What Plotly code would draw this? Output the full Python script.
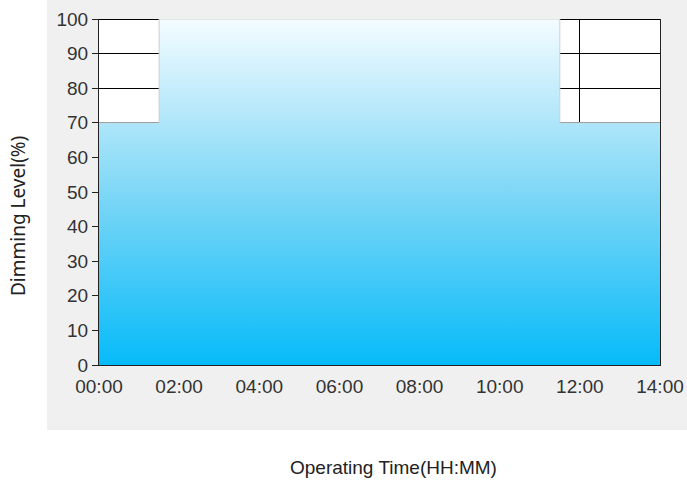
import plotly.graph_objects as go

# Data
hours = [0, 1.5, 11.5, 14]
dimming = [70, 100, 70, 70]
tick_hours = [0, 2, 4, 6, 8, 10, 12, 14]
tick_labels = ["00:00", "02:00", "04:00", "06:00", "08:00", "10:00", "12:00", "14:00"]
y_ticks = [0, 10, 20, 30, 40, 50, 60, 70, 80, 90, 100]

W, H = 687, 484
L, R, T, B = 99, 27, 19, 119
pw, ph = W - L - R, H - T - B

fig = go.Figure()
fig.add_trace(go.Scatter(
    x=hours, y=dimming, mode="lines", line_shape="hv",
    line=dict(color="#cfcfcf", width=1),
    fill="tozeroy",
    fillgradient=dict(type="vertical", start=0, stop=100,
                      colorscale=[[0, "#06bbf9"], [0.5, "#7fd7f6"], [1, "#f4fcff"]]),
    hoverinfo="skip", showlegend=False,
))

arial = "Liberation Sans, Arial, sans-serif"

# gray panel + white plot area
fig.add_shape(type="rect", xref="paper", yref="paper",
              x0=(47 - L) / pw, x1=(W + 5 - L) / pw,
              y0=(ph - (430 - T)) / ph, y1=(ph + T + 5) / ph,
              fillcolor="#f0f0f0", line_width=0, layer="below")
fig.add_shape(type="rect", xref="paper", yref="paper",
              x0=0, x1=1, y0=0, y1=1,
              fillcolor="white", line_width=0, layer="below")
# top gridline (edge gridline is not drawn by plotly)
fig.add_shape(type="line", xref="x", yref="y", x0=0, x1=14, y0=100, y1=100,
              line=dict(color="black", width=2), layer="between")

fig.update_layout(
    width=W, height=H,
    margin=dict(l=L, r=R, t=T, b=B, autoexpand=False),
    paper_bgcolor="white", plot_bgcolor="white",
    xaxis=dict(range=[0, 14], tickvals=tick_hours, ticktext=tick_labels,
               showgrid=True, gridcolor="black", gridwidth=1,
               showline=True, linecolor="#222", linewidth=1, mirror=False,
               ticks="", ticklabelstandoff=4, automargin=False,
               tickfont=dict(family=arial, size=19, color="#333"),
               zeroline=False, fixedrange=True),
    yaxis=dict(range=[0, 100], tickvals=y_ticks,
               showgrid=True, gridcolor="black", gridwidth=1,
               showline=True, linecolor="#222", linewidth=1, mirror=True,
               ticks="outside", ticklen=6, tickcolor="#222", automargin=False,
               tickfont=dict(family=arial, size=19, color="#333"),
               zeroline=False, fixedrange=True),
    annotations=[
        dict(text="Operating Time(HH:MM)", xref="paper", yref="paper",
             x=(393 - L) / pw, y=(H - B - 467) / ph, xanchor="center", yanchor="middle",
             showarrow=False, font=dict(family=arial, size=19, color="#222")),
        dict(text="Dimming Level(%)", xref="paper", yref="paper",
             x=(18 - L) / pw, y=(H - B - 216) / ph, xanchor="center", yanchor="middle",
             textangle=-90, showarrow=False,
             font=dict(family="Noto Sans, DejaVu Sans, sans-serif", size=19, color="#222")),
    ],
)

fig.write_html("out.html", config={"displayModeBar": False})
with open("out.html", encoding="utf-8") as f:
    html = f.read()
html = html.replace("<head>", "<head><style>html,body{margin:0;padding:0;overflow:hidden}</style>", 1)
with open("out.html", "w", encoding="utf-8") as f:
    f.write(html)
